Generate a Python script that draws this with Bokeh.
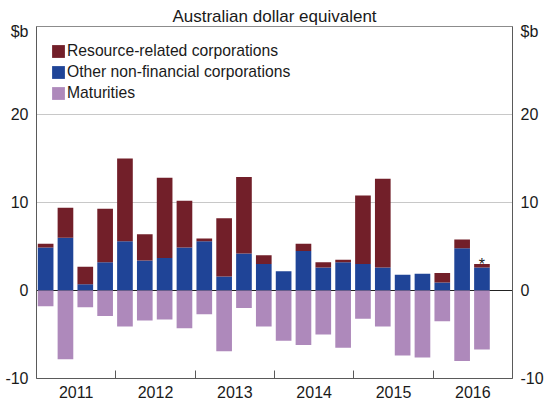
from bokeh.plotting import figure
from bokeh.models import (ColumnDataSource, FixedTicker, LinearAxis, Span, Legend,
                          LegendItem, Range1d, NumeralTickFormatter, Title)
from bokeh.core.properties import value
from bokeh.embed import file_html
from bokeh.resources import INLINE

# ---------------- data ----------------
quarters = ["2011Q1", "2011Q2", "2011Q3", "2011Q4",
            "2012Q1", "2012Q2", "2012Q3", "2012Q4",
            "2013Q1", "2013Q2", "2013Q3", "2013Q4",
            "2014Q1", "2014Q2", "2014Q3", "2014Q4",
            "2015Q1", "2015Q2", "2015Q3", "2015Q4",
            "2016Q1", "2016Q2", "2016Q3"]
resource = [0.4, 3.4, 2.0, 6.1, 9.4, 3.0, 9.1, 5.3, 0.3, 6.6, 8.7, 1.0,
            0.0, 0.8, 0.6, 0.3, 7.8, 10.1, 0.0, 0.0, 1.1, 1.0, 0.4]
other = [4.9, 6.0, 0.7, 3.2, 5.6, 3.4, 3.7, 4.9, 5.6, 1.6, 4.2, 3.0,
         2.2, 4.5, 2.6, 3.2, 3.0, 2.6, 1.8, 1.9, 0.9, 4.8, 2.6]
maturities = [-1.8, -7.8, -1.9, -2.9, -4.1, -3.4, -3.3, -4.3, -2.7, -6.9, -2.0, -4.1,
              -5.7, -6.2, -5.0, -6.5, -3.2, -4.1, -7.4, -7.6, -3.5, -8.0, -6.7]
notes = [""] * 22 + ["*"]
years = ["2011", "2012", "2013", "2014", "2015", "2016"]
y_ticks = [-10, 0, 10, 20]
unit_label = "$b"
subtitle = "Australian dollar equivalent"
series_names = ["Resource-related corporations", "Other non-financial corporations", "Maturities"]

# ---------------- style ----------------
RED = "#721F29"
BLUE = "#1F4497"
PURPLE = "#AE89BB"
AXIS = "#5a5a5a"
FONT = "Liberation Sans"
TXT = "#1a1a1a"
W, H = 549, 404
BL, BR, BT, BB = 36, 37, 26, 26

n = len(quarters)
xs = [i + 0.46 for i in range(n)]
total = [o + r for o, r in zip(other, resource)]
src = ColumnDataSource(dict(x=xs, quarter=quarters, other=other, resource=resource,
                            maturities=maturities, total=total, note=notes))

p = figure(width=W, height=H, x_range=Range1d(0, 4 * len(years)), y_range=Range1d(-10, 30),
           output_backend="svg", toolbar_location=None,
           min_border_left=BL, min_border_right=BR, min_border_top=BT, min_border_bottom=BB)
p.outline_line_color = "#8c8c8c"
p.background_fill_color = "white"
p.border_fill_color = "white"

# subtitle
p.title = Title(text=subtitle, align="center", text_font=FONT, text_font_size="17px",
                text_font_style="normal", text_color=TXT, standoff=2, offset=0)

# grid
p.xgrid.visible = False
p.ygrid.ticker = FixedTicker(ticks=[t for t in y_ticks if t > 0])
p.ygrid.grid_line_color = "#c8c8c8"
p.ygrid.grid_line_width = 1

# zero line
p.add_layout(Span(location=0, dimension="width", line_color="#222222", line_width=1.2, level="underlay"))

# bars
stack = p.vbar_stack(["other", "resource"], x="x", width=0.79, source=src,
                     fill_color=[BLUE, RED], line_color=None)
r_mat = p.vbar(x="x", bottom=0, top="maturities", width=0.79, source=src,
               fill_color=PURPLE, line_color=None)
p.text(x="x", y="total", text="note", source=src, text_align="center", text_baseline="middle",
       text_font=value(FONT), text_font_size="16px", text_color=TXT)

# legend (top-left, placed in frame pixels from its bottom-left corner)
frame_h = H - BT - BB
row_h, gap = 18, 3
leg_h = 3 * row_h + 2 * gap
legend = Legend(items=[LegendItem(label=series_names[0], renderers=[stack[1]]),
                       LegendItem(label=series_names[1], renderers=[stack[0]]),
                       LegendItem(label=series_names[2], renderers=[r_mat])],
                location=(14, frame_h - 16 - leg_h), margin=0, padding=0, spacing=gap,
                glyph_width=16, glyph_height=16, label_height=row_h, label_standoff=1,
                label_text_font=FONT, label_text_font_size="15.7px", label_text_color=TXT,
                border_line_color=None, background_fill_alpha=0)
p.add_layout(legend)

# y axes (left and right)
unit_pos = 29.4
overrides = {t: str(t) for t in y_ticks}
overrides[unit_pos] = unit_label


def style_y(ax):
    ax.ticker = FixedTicker(ticks=y_ticks + [unit_pos])
    ax.formatter = NumeralTickFormatter(format="0")
    ax.major_label_overrides = overrides
    ax.major_tick_line_color = None
    ax.minor_tick_line_color = None
    ax.axis_line_color = AXIS
    ax.major_label_text_font = FONT
    ax.major_label_text_font_size = "16px"
    ax.major_label_text_color = TXT
    ax.major_label_standoff = 2


style_y(p.yaxis[0])
right = LinearAxis()
style_y(right)
p.add_layout(right, "right")

# x axis: year labels at year centres, year boundaries as inward minor ticks
year_centres = [4 * k + 2 for k in range(len(years))]
xa = p.xaxis[0]
xa.ticker = FixedTicker(ticks=year_centres, minor_ticks=[4 * k for k in range(1, len(years))])
xa.major_label_overrides = {c: y for c, y in zip(year_centres, years)}
xa.major_tick_line_color = None
xa.major_tick_in = 0
xa.major_tick_out = 0
xa.minor_tick_in = 8
xa.minor_tick_out = 0
xa.minor_tick_line_color = AXIS
xa.axis_line_color = AXIS
xa.major_label_text_font = FONT
xa.major_label_text_font_size = "16px"
xa.major_label_text_color = TXT
xa.major_label_standoff = 7

open("out.html", "w").write(file_html(p, INLINE))
